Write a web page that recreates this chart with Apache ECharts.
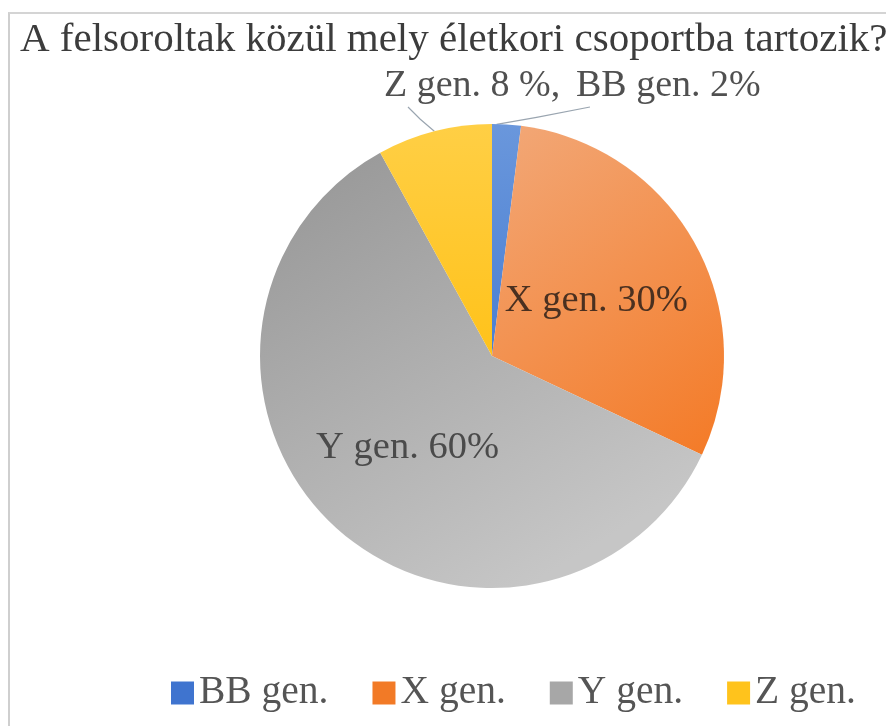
<!DOCTYPE html>
<html>
<head>
<meta charset="utf-8">
<script src="https://cdn.jsdelivr.net/npm/echarts@6/dist/echarts.min.js"></script>
<style>
html,body{margin:0;padding:0;background:#fff;}
#frame{position:absolute;left:8px;top:12px;width:878px;height:714px;border-left:2px solid #cfcfcf;border-top:2px solid #d4d4d4;box-sizing:border-box;}
#chart{position:absolute;left:0;top:0;width:886px;height:726px;}
</style>
</head>
<body>
<div id="frame"></div>
<div id="chart"></div>
<script>
const titleText = 'A felsoroltak közül mely életkori csoportba tartozik?';
const categories = ['BB gen.', 'X gen.', 'Y gen.', 'Z gen.'];
const values = [2, 30, 60, 8];
const labelTexts = ['BB gen. 2%', 'X gen. 30%', 'Y gen. 60%', 'Z gen. 8 %,'];

const FONT = 'Liberation Serif';
function lg(c1, c2, x2, y2) {
  return new echarts.graphic.LinearGradient(0, 0, x2, y2, [{offset: 0, color: c1}, {offset: 1, color: c2}]);
}
const fills = [
  lg('#6a97dc', '#4a7fd2', 0, 1),
  lg('#f2a878', '#f47a26', 1, 1),
  lg('#959595', '#c6c6c6', 0.6, 1),
  lg('#ffcf45', '#ffc21a', 0, 1)
];
const legendColors = ['#3f74cf', '#f27a26', '#a7a7a7', '#ffc31c'];

const chart = echarts.init(document.getElementById('chart'), null, {renderer: 'canvas'});
const data = categories.map((c, i) => {
  const d = {name: c, value: values[i], itemStyle: {color: fills[i]}};
  if (i === 1 || i === 2) {
    d.label = {position: 'inner', formatter: labelTexts[i], fontSize: 38.5, color: i === 1 ? '#4a3020' : '#4a4a4a'};
    d.labelLine = {show: false};
  } else {
    d.label = {position: 'outside', formatter: labelTexts[i], fontSize: 38, color: '#505050'};
    d.labelLine = {show: true, length: 10, length2: 10, lineStyle: {color: '#9aa5b0', width: 1.2}};
  }
  return d;
});

chart.setOption({
  animation: false,
  color: legendColors,
  title: {
    text: titleText, left: 15, top: 15,
    textStyle: {fontFamily: FONT, fontSize: 41, fontWeight: 'normal', color: '#3c3c3c'}
  },
  legend: {
    data: categories.map((c, i) => ({name: c, itemStyle: {color: legendColors[i]}})),
    top: 668, left: 166, icon: 'rect', itemWidth: 23, itemHeight: 23, itemGap: 44,
    textStyle: {fontFamily: FONT, fontSize: 39.5, color: '#555555', padding: [0, 0, 0, 0]}
  },
  series: [{
    type: 'pie',
    center: [492, 356],
    radius: 232,
    startAngle: 90,
    clockwise: true,
    avoidLabelOverlap: false,
    label: {fontFamily: FONT},
    labelLayout: function (p) {
      const s = p.labelLinePoints ? p.labelLinePoints[0] : null;
      if (p.dataIndex === 3) {
        const r = {x: 384, y: 86, align: 'left', verticalAlign: 'middle'};
        if (s) r.labelLinePoints = [[s[0], s[1]], [s[0] - 14, s[1] - 12], [408, 107]];
        return r;
      }
      if (p.dataIndex === 0) {
        const r = {x: 576, y: 86, align: 'left', verticalAlign: 'middle'};
        if (s) r.labelLinePoints = [[s[0] - 10, s[1]], [s[0] + 30, s[1] - 7], [590, 107]];
        return r;
      }
      if (p.dataIndex === 1) return {dx: 0, dy: 2};
      if (p.dataIndex === 2) return {dx: -3, dy: 5};
      return {};
    },
    data: data
  }]
});
</script>
</body>
</html>
